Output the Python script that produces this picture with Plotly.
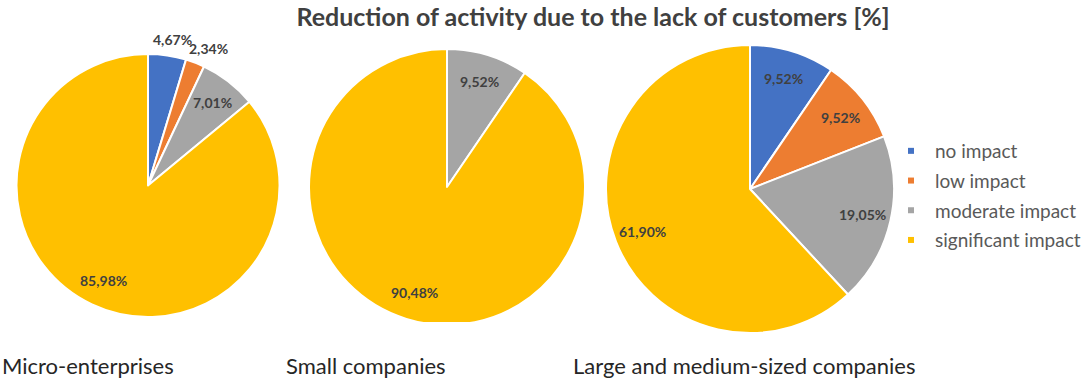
import math
import plotly.graph_objects as go

# Survey answers: share of firms by impact level, per company size
categories = ["no impact", "low impact", "moderate impact", "significant impact"]
micro = [4.67, 2.34, 7.01, 85.98]
small = [0.0, 0.0, 9.52, 90.48]
large_medium = [9.52, 9.52, 19.05, 61.90]
group_names = ["Micro-enterprises", "Small companies", "Large and medium-sized companies"]
title_text = "Reduction of activity due to the lack of customers [%]"

colors = ["#4472C4", "#ED7D31", "#A5A5A5", "#FFC000"]
W, H = 1090, 381
FONT = "Lato"
LABEL_COLOR = "#404040"


def px_domain(cx, cy, r):
    """Pie domain (paper coords) from a centre and radius given in pixels."""
    return dict(x=[(cx - r) / W, (cx + r) / W], y=[1 - (cy + r) / H, 1 - (cy - r) / H])


def slice_labels(values, cx, cy, r, outside):
    """Value labels placed on each slice's bisector (inside at 0.8 r, outside beyond the rim)."""
    total = sum(values)
    out, acc = [], 0.0
    for v, is_out in zip(values, outside):
        mid = (acc + v / 2) / total
        acc += v
        if not v:
            continue
        theta = 2 * math.pi * mid  # clockwise from 12 o'clock
        f = 1.12 if is_out else 0.8
        x = cx + math.sin(theta) * f * r
        y = cy - math.cos(theta) * f * r
        if is_out:
            # push outside labels sideways so the text box clears the rim
            x += math.sin(theta) * 20
        out.append(dict(
            text=f"{v:.2f}%".replace(".", ","), x=x / W, y=1 - y / H,
            xref="paper", yref="paper", xanchor="center", yanchor="middle",
            showarrow=False,
            font=dict(family=FONT, size=14, color=LABEL_COLOR, weight="bold"),
        ))
    return out


fig = go.Figure()
annotations = []

pies = [
    (micro, (148, 185.5, 131.5), [True, True, False, False]),
    (small, (447, 187, 138), [False] * 4),
    (large_medium, (750, 189, 144), [False] * 4),
]
for values, (cx, cy, r), outside in pies:
    fig.add_trace(go.Pie(
        labels=categories,
        values=values,
        textinfo="none",
        sort=False,
        direction="clockwise",
        rotation=0,
        marker=dict(colors=colors, line=dict(color="white", width=2)),
        domain=px_domain(cx, cy, r),
        showlegend=False,
        hoverinfo="label+percent",
    ))
    annotations += slice_labels(values, cx, cy, r, outside)

# Legend entries with small square swatches
for i, (name, c) in enumerate(zip(categories, colors)):
    fig.add_trace(go.Scatter(
        x=[None], y=[None], mode="markers", name=name,
        marker=dict(symbol="square", size=6, color=c),
        legendgroup=str(i), showlegend=True,
    ))

for name, x0 in zip(group_names, [0, 284, 571]):
    annotations.append(dict(
        text=name, x=x0 / W, y=1 - 365 / H, xref="paper", yref="paper",
        xanchor="left", yanchor="middle", showarrow=False,
        font=dict(family=FONT, size=22, color="#262626"),
    ))

fig.update_layout(
    width=W, height=H, autosize=False,
    margin=dict(l=0, r=0, t=0, b=0),
    paper_bgcolor="white", plot_bgcolor="white",
    title=dict(text=f"<b>{title_text}</b>", x=593 / W, xanchor="center",
               y=1 - 17 / H, yanchor="middle",
               font=dict(family=FONT, size=25, color=LABEL_COLOR)),
    xaxis=dict(visible=False), yaxis=dict(visible=False),
    legend=dict(x=887 / W, xanchor="left", y=1 - 132 / H, yanchor="top",
                font=dict(family=FONT, size=19, color="#595959"),
                traceorder="grouped", tracegroupgap=2,
                bgcolor="rgba(0,0,0,0)", itemwidth=38),
    annotations=annotations,
    shapes=[dict(type="rect", xref="paper", yref="paper", layer="above",
                 x0=300 / W, x1=600 / W, y0=1 - 327 / H, y1=1 - 322 / H,
                 fillcolor="white", line=dict(width=0))],
    showlegend=True,
)

fig.write_html("out.html")
